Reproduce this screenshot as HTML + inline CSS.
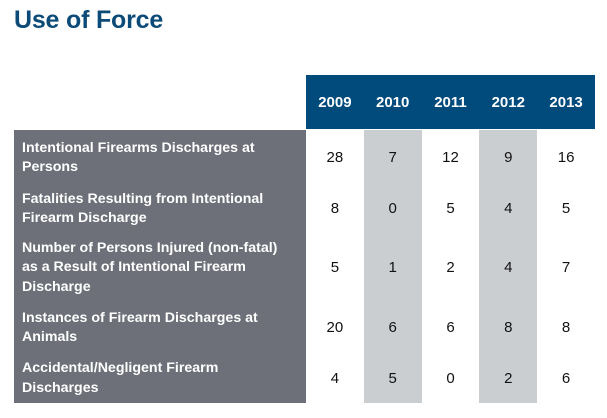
<!DOCTYPE html>
<html><head><meta charset="utf-8"><style>
body{margin:0;width:607px;height:418px;background:#fff;position:relative;overflow:hidden;font-family:"Liberation Sans",sans-serif}
.a{position:absolute}
#title{left:14px;top:6px;font-size:25px;font-weight:bold;color:#0c4a78;letter-spacing:-0.2px}
#hdr{left:306px;top:75px;width:289px;height:54px;background:#004a7c}
.yr{position:absolute;top:0;height:54px;line-height:56px;width:57.8px;text-align:center;color:#fff;font-weight:bold;font-size:15px}
#lab{left:14px;top:130px;width:292px;height:273px;background:#6d7078}
.stripe{top:130px;height:273px;width:57.8px;background:#cbced1}
.lbl{position:absolute;color:#fff;font-weight:bold;font-size:14.2px;line-height:19.5px;display:flex;align-items:center}
.v{position:absolute;width:57.8px;text-align:center;font-size:15px;color:#111}
</style></head><body>
<div class="a" id="title">Use of Force</div>
<div class="a stripe" style="left:363.8px"></div>
<div class="a stripe" style="left:479.4px"></div>
<div class="a" id="hdr"></div>
<div class="a" id="lab"></div>
<div id="body"></div>
<script>
const years=["2009","2010","2011","2012","2013"];
const labels=["Intentional Firearms Discharges at<br>Persons","Fatalities Resulting from Intentional<br>Firearm Discharge","Number of Persons Injured (non-fatal)<br>as a Result of Intentional Firearm<br>Discharge","Instances of Firearm Discharges at<br>Animals","Accidental/Negligent Firearm<br>Discharges"];
const values=[[28,7,12,9,16],[8,0,5,4,5],[5,1,2,4,7],[20,6,6,8,8],[4,5,0,2,6]];
const rowTop=[130,184,232,302,352,403];
const hdr=document.getElementById('hdr');
years.forEach((y,i)=>{const d=document.createElement('div');d.className='yr';d.style.left=(i*57.8)+'px';d.textContent=y;


hdr.appendChild(d);});
const body=document.getElementById('body');
labels.forEach((l,r)=>{const t=rowTop[r],h=rowTop[r+1]-t;
const d=document.createElement('div');d.className='lbl';d.style.left='22px';d.style.top=(t+1)+'px';d.style.height=h+'px';d.innerHTML=l;


body.appendChild(d);
values[r].forEach((v,c)=>{const e=document.createElement('div');e.className='v';e.style.left=(306+c*57.8)+'px';e.style.top=(t+h/2-8)+'px';e.textContent=v;


body.appendChild(e);});});
</script>
</body></html>
